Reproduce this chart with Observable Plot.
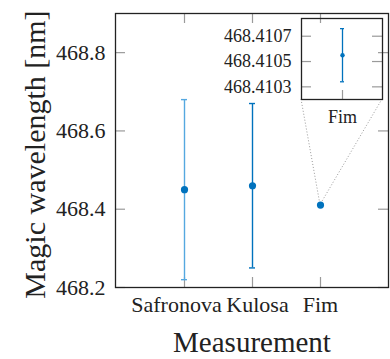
<!DOCTYPE html>
<html><head><meta charset="utf-8">
<script src="https://cdn.jsdelivr.net/npm/d3@7"></script>
<script src="https://cdn.jsdelivr.net/npm/@observablehq/plot@0.6"></script>
<style>body{margin:0;background:#fff} #chart{width:390px;height:359px}</style>
</head><body><div id="chart"></div>
<script>
const categories = ["Safronova", "Kulosa", "Fim"];
const values = [468.45, 468.46, 468.41055];
const errors = [0.23, 0.21, 0.00021];
const barColors = ["#55a8e0", "#0072bd", "#0072bd"];
const yTicks = [468.2, 468.4, 468.6, 468.8];
const yDomain = [468.2, 468.9];
const insetCategories = ["Fim"];
const insetValues = [468.41055];
const insetErrors = [0.00021];
const insetTicks = [468.4103, 468.4105, 468.4107];
const insetDomain = [468.4102, 468.41084];
const xTitle = "Measurement";
const yTitle = "Magic wavelength [nm]";

const rows = categories.map((c, i) => ({name: c, value: values[i], err: errors[i], color: barColors[i]}));
const insetRows = insetCategories.map((c, i) => ({name: c, value: insetValues[i], err: insetErrors[i]}));

const font = "'Liberation Serif', 'Times New Roman', serif";
const ink = "#222";
const tickColor = "#9a9a9a";
const blue = "#0072bd";

const W = 390, H = 359, mL = 115, mR = 2, mT = 13, mB = 72;
const fW = W - mL - mR, fH = H - mT - mB;
const labelShift = {Safronova: -8, Kulosa: 5, Fim: 0};

const main = Plot.plot({
  width: W, height: H, marginLeft: mL, marginRight: mR, marginTop: mT, marginBottom: mB,
  style: {fontFamily: font, color: ink, background: "white", overflow: "visible"},
  x: {type: "band", domain: categories, paddingInner: 0.912, paddingOuter: 0.956, axis: null},
  y: {domain: yDomain, axis: null},
  color: {type: "identity"},
  marks: [
    Plot.tickY(yTicks, {y: d => d, stroke: tickColor, strokeWidth: 1.2, insetRight: fW - 10}),
    Plot.tickY(yTicks, {y: d => d, stroke: tickColor, strokeWidth: 1.2, insetLeft: fW - 10}),
    Plot.tickX(categories, {x: d => d, stroke: tickColor, strokeWidth: 1.2, insetTop: fH - 10}),
    Plot.tickX(categories, {x: d => d, stroke: tickColor, strokeWidth: 1.2, insetBottom: fH - 10}),
    Plot.ruleX(rows, {x: "name", y1: d => d.value - d.err, y2: d => d.value + d.err, stroke: "color", strokeWidth: 1.4}),
    Plot.tickY(rows, {x: "name", y: d => d.value + d.err, stroke: "color", strokeWidth: 1.4}),
    Plot.tickY(rows, {x: "name", y: d => d.value - d.err, stroke: "color", strokeWidth: 1.4}),
    Plot.dot(rows, {x: "name", y: "value", r: 3.6, fill: blue}),
    Plot.text(yTicks, {y: d => d, text: d => d.toFixed(1), frameAnchor: "left", textAnchor: "end", dx: -10, fontSize: 22, fontFamily: font, fill: ink}),
    ...categories.map(c => Plot.text([c], {x: d => d, text: d => d, frameAnchor: "bottom", lineAnchor: "bottom", dy: 24, dx: labelShift[c], fontSize: 22, fontFamily: font, fill: ink})),
    Plot.text([xTitle], {text: d => d, frameAnchor: "bottom", textAnchor: "middle", lineAnchor: "bottom", dy: 64, fontSize: 29, fontFamily: font, fill: ink}),
    Plot.text([yTitle], {text: d => d, frameAnchor: "left", textAnchor: "middle", rotate: -90, dx: -80, dy: 4, fontSize: 30, fontFamily: font, fill: ink}),
    Plot.frame({stroke: ink, strokeWidth: 1.3})
  ]
});

// Inset
const IX = 215, IY = 0, IW = 175, IH = 130, imL = 86, imR = 8, imT = 18, imB = 31;
const ifW = IW - imL - imR, ifH = IH - imT - imB;
const inset = Plot.plot({
  width: IW, height: IH, marginLeft: imL, marginRight: imR, marginTop: imT, marginBottom: imB,
  style: {fontFamily: font, color: ink, background: "transparent", overflow: "visible"},
  x: {type: "band", domain: insetCategories, paddingInner: 0, paddingOuter: 8, axis: null},
  y: {domain: insetDomain, axis: null},
  marks: [
    Plot.tickY(insetTicks, {y: d => d, stroke: tickColor, strokeWidth: 1.2, insetRight: ifW - 10}),
    Plot.tickY(insetTicks, {y: d => d, stroke: tickColor, strokeWidth: 1.2, insetLeft: ifW - 10}),
    Plot.tickX(insetCategories, {x: d => d, stroke: tickColor, strokeWidth: 1.2, insetTop: ifH - 9}),
    Plot.ruleX(insetRows, {x: "name", y1: d => d.value - d.err, y2: d => d.value + d.err, stroke: blue, strokeWidth: 1.3}),
    Plot.tickY(insetRows, {x: "name", y: d => d.value + d.err, stroke: blue, strokeWidth: 1.3}),
    Plot.tickY(insetRows, {x: "name", y: d => d.value - d.err, stroke: blue, strokeWidth: 1.3}),
    Plot.dot(insetRows, {x: "name", y: "value", r: 2.2, fill: blue}),
    Plot.text(insetTicks, {y: d => d, text: d => d.toFixed(4), frameAnchor: "left", textAnchor: "end", dx: -10, fontSize: 18, fontFamily: font, fill: ink}),
    Plot.text(insetCategories, {x: d => d, text: d => d, frameAnchor: "bottom", lineAnchor: "bottom", dy: 23, fontSize: 18, fontFamily: font, fill: ink}),
    Plot.frame({stroke: ink, strokeWidth: 1.3})
  ]
});

// Connector lines from inset corners to the Fim point
const xs = main.scale("x");
const px = xs.apply("Fim") + (xs.bandwidth || 0) / 2;
const py = main.scale("y").apply(values[2]);
const cornerY = IY + IH - imB;
const corners = [IX + imL, IX + IW - imR];
const g = d3.select(main).insert("g", "g[aria-label='dot']");
corners.forEach(cx => {
  g.append("line").attr("x1", cx).attr("y1", cornerY).attr("x2", px).attr("y2", py)
    .attr("stroke", "#999").attr("stroke-width", 1).attr("stroke-dasharray", "1,2");
});
d3.select(inset).attr("x", IX).attr("y", IY)
  .style("width", IW + "px").style("height", IH + "px").style("max-width", "none");
main.appendChild(inset);
document.getElementById("chart").appendChild(main);
</script>
</body></html>
